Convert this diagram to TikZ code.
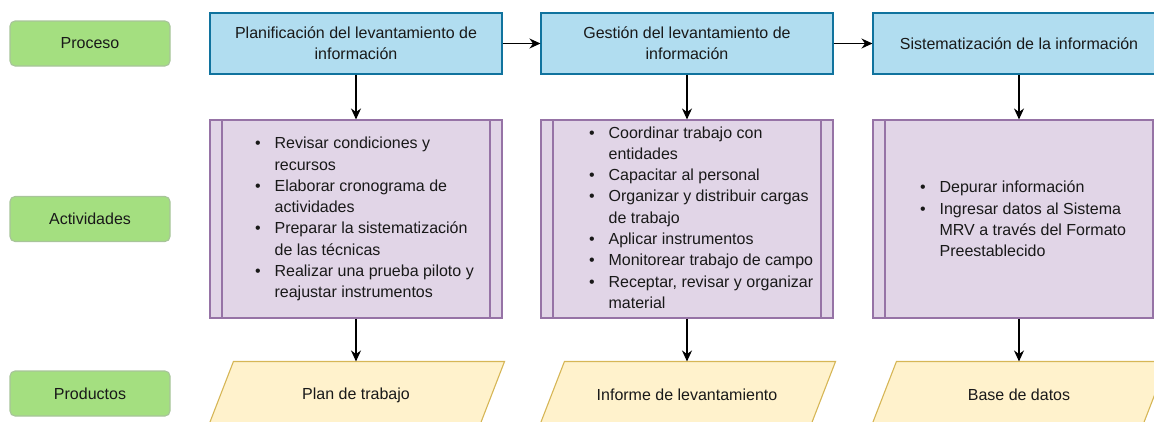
\documentclass[tikz,border=0pt]{standalone}
\usepackage{fontspec}
\setmainfont{Liberation Sans}
\usetikzlibrary{arrows.meta,positioning,backgrounds}
\definecolor{rowgreen}{HTML}{A4DF80}
\definecolor{rowgreenline}{HTML}{A8C49A}
\definecolor{procblue}{HTML}{B1DDF0}
\definecolor{procblueline}{HTML}{10739E}
\definecolor{actpurple}{HTML}{E1D5E7}
\definecolor{actpurpleline}{HTML}{9673A6}
\definecolor{prodyellow}{HTML}{FFF2CC}
\definecolor{prodyellowline}{HTML}{D6B656}
\tikzset{
  txtbase/.style={font=\fontsize{16}{21.3}\selectfont,text=black!90,inner sep=0pt,line width=1.1pt},
  rownode/.style={txtbase,rectangle,rounded corners=5pt,fill=rowgreen,draw=rowgreenline,minimum width=160pt,minimum height=45pt},
  procnode/.style={txtbase,rectangle,fill=procblue,draw=procblueline,minimum width=292pt,minimum height=61pt,align=center},
  actnode/.style={txtbase,rectangle,fill=actpurple,draw=actpurpleline,minimum width=292pt,minimum height=198pt,
    path picture={\draw[actpurpleline,line width=1.1pt]
      ([xshift=12pt]path picture bounding box.north west) -- ([xshift=12pt]path picture bounding box.south west)
      ([xshift=-12pt]path picture bounding box.north east) -- ([xshift=-12pt]path picture bounding box.south east);}},
  listnode/.style={txtbase,anchor=west},
  prodnode/.style={txtbase,rectangle,minimum width=296pt,minimum height=66pt},
  prodshape/.style={fill=prodyellow,draw=prodyellowline,line width=1.1pt},
  flowarrow/.style={-{Stealth[length=11pt,width=10pt]},line width=1.2pt,black},
}

\begin{document}
\begin{tikzpicture}[x=1pt,y=-1pt]
  \useasboundingbox (0,0) rectangle (1154,421);
  \clip (0,0) rectangle (1154,421);
  % row labels
  \node[rownode] (rowProc) at (90,43.5) {Proceso};
  \node[rownode] (rowAct) at (90,219) {Actividades};
  \node[rownode] (rowProd) at (90,393.5) {Productos};
  % processes
  \node[procnode] (procA) at (356,43.5) {Planificación del levantamiento de\\información};
  \node[procnode] (procB) at (687,43.5) {Gestión del levantamiento de\\información};
  \node[procnode] (procC) at (1019,43.5) {Sistematización de la información};
  % activities
  \node[actnode] (actA) at (356,219) {};
  \node[actnode] (actB) at (687,219) {};
  \node[actnode] (actC) at (1019,219) {};
  \node[listnode] (listA) at ([xshift=45pt]actA.west) {%
    \begin{tabular}{@{}l@{\hspace{14pt}}l@{}}
      \textbullet & Revisar condiciones y\\
                  & recursos\\
      \textbullet & Elaborar cronograma de\\
                  & actividades\\
      \textbullet & Preparar la sistematización\\
                  & de las técnicas\\
      \textbullet & Realizar una prueba piloto y\\
                  & reajustar instrumentos
    \end{tabular}};
  \node[listnode] (listB) at ([xshift=48pt]actB.west) {%
    \begin{tabular}{@{}l@{\hspace{14pt}}l@{}}
      \textbullet & Coordinar trabajo con\\
                  & entidades\\
      \textbullet & Capacitar al personal\\
      \textbullet & Organizar y distribuir cargas\\
                  & de trabajo\\
      \textbullet & Aplicar instrumentos\\
      \textbullet & Monitorear trabajo de campo\\
      \textbullet & Receptar, revisar y organizar\\
                  & material
    \end{tabular}};
  \node[listnode] (listC) at ([xshift=47pt,yshift=-1.5pt]actC.west) {%
    \begin{tabular}{@{}l@{\hspace{14pt}}l@{}}
      \textbullet & Depurar información\\
      \textbullet & Ingresar datos al Sistema\\
                  & MRV a través del Formato\\
                  & Preestablecido
    \end{tabular}};
  % products
  \node[prodnode] (prodA) at (356,395) {Plan de trabajo};
  \node[prodnode] (prodB) at (687,395) {Informe de levantamiento};
  \node[prodnode] (prodC) at (1019,395) {Base de datos};
  \begin{scope}[on background layer]
    \draw[prodshape] ([xshift=26pt]prodA.north west) -- (prodA.north east) -- ([xshift=-26pt]prodA.south east) -- (prodA.south west) -- cycle;
    \draw[prodshape] ([xshift=26pt]prodB.north west) -- (prodB.north east) -- ([xshift=-26pt]prodB.south east) -- (prodB.south west) -- cycle;
    \draw[prodshape] ([xshift=26pt]prodC.north west) -- (prodC.north east) -- ([xshift=-26pt]prodC.south east) -- (prodC.south west) -- cycle;
  \end{scope}
  % connectors
  \draw[flowarrow] (procA) -- (procB);
  \draw[flowarrow] (procB) -- (procC);
  \draw[flowarrow] (procA) -- (actA);
  \draw[flowarrow] (procB) -- (actB);
  \draw[flowarrow] (procC) -- (actC);
  \draw[flowarrow] (actA) -- (prodA);
  \draw[flowarrow] (actB) -- (prodB);
  \draw[flowarrow] (actC) -- (prodC);
\end{tikzpicture}
\end{document}
